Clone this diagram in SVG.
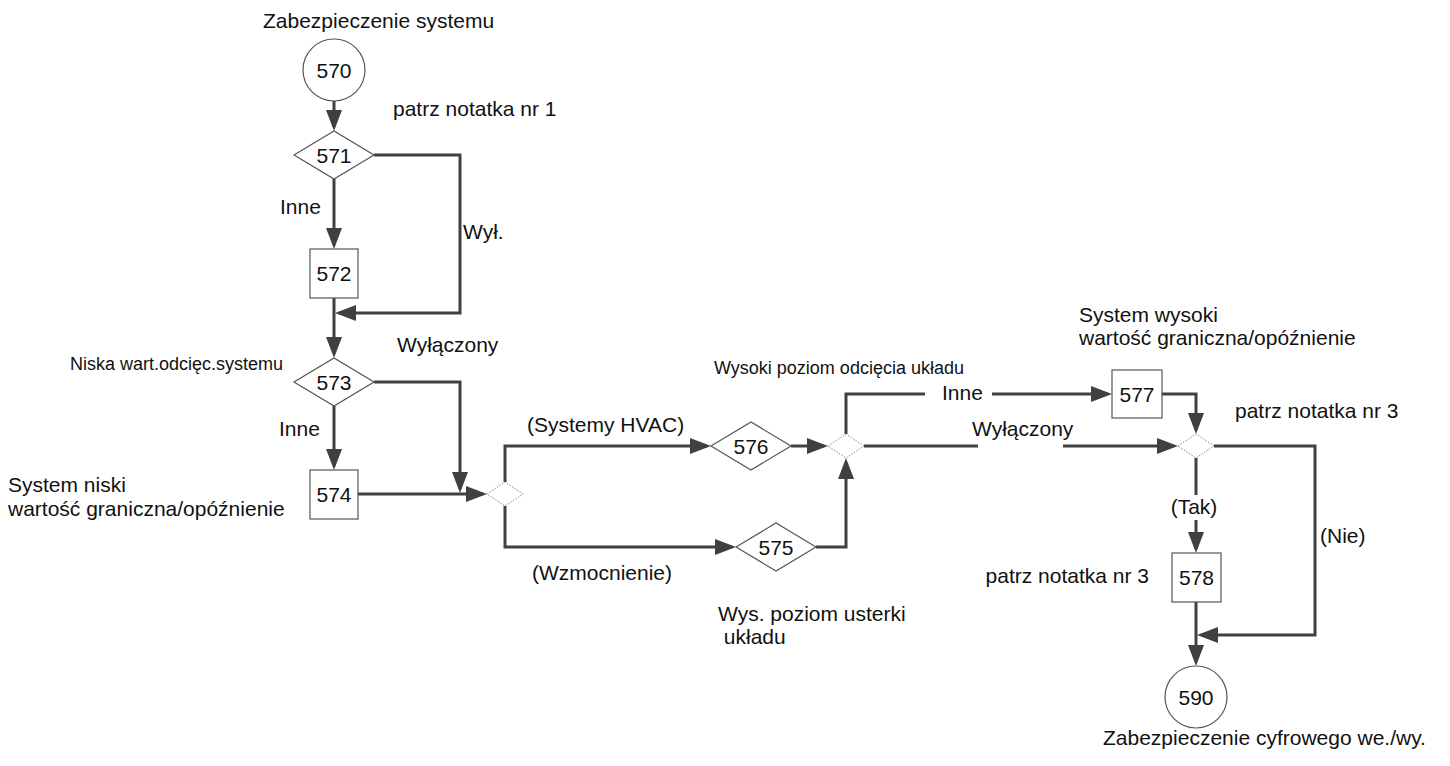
<svg xmlns="http://www.w3.org/2000/svg" width="1450" height="766" viewBox="0 0 1450 766">
<style>
text{font-family:"Liberation Sans",Arial,sans-serif;font-size:21px;fill:#111}
.small{font-size:18px}
.num{text-anchor:middle}
.shape{fill:#fff;stroke:#555;stroke-width:1.2}
.junc{fill:#fff;stroke:#888;stroke-width:1;stroke-dasharray:1.5 1.5}
.conn{fill:none;stroke:#404040;stroke-width:3}
</style>
<defs>
<marker id="arr" markerUnits="userSpaceOnUse" markerWidth="22" markerHeight="16" refX="17" refY="8" orient="auto">
<path d="M0,0 L21,8 L0,16 z" fill="#404040"/>
</marker>
</defs>
<rect width="1450" height="766" fill="#fff"/>
<g id="connectors">
<path class="conn" d="M334,101 V127" marker-end="url(#arr)"/>
<path class="conn" d="M334,179 V245" marker-end="url(#arr)"/>
<path class="conn" d="M374,155 H460 V313 H339" marker-end="url(#arr)"/>
<path class="conn" d="M334,298 V354" marker-end="url(#arr)"/>
<path class="conn" d="M334,406 V466" marker-end="url(#arr)"/>
<path class="conn" d="M374,382 H460 V489" marker-end="url(#arr)"/>
<path class="conn" d="M358,494 H483" marker-end="url(#arr)"/>
<path class="conn" d="M505,482 V446 H707" marker-end="url(#arr)"/>
<path class="conn" d="M791,446 H824" marker-end="url(#arr)"/>
<path class="conn" d="M505,506 V547 H732" marker-end="url(#arr)"/>
<path class="conn" d="M816,547 H846 V462" marker-end="url(#arr)"/>
<path class="conn" d="M846,434 V394 H925"/>
<path class="conn" d="M992,394 H1108" marker-end="url(#arr)"/>
<path class="conn" d="M1162,394 H1196 V430" marker-end="url(#arr)"/>
<path class="conn" d="M864,446 H978"/>
<path class="conn" d="M1063,446 H1174" marker-end="url(#arr)"/>
<path class="conn" d="M1214,446 H1315 V635 H1201" marker-end="url(#arr)"/>
<path class="conn" d="M1196,458 V495"/>
<path class="conn" d="M1196,520 V549" marker-end="url(#arr)"/>
<path class="conn" d="M1196,602 V662" marker-end="url(#arr)"/>
</g>
<g id="n570"><circle class="shape" cx="334" cy="70" r="31"/><text class="num" x="334" y="77.5">570</text></g>
<g id="n571"><path class="shape" d="M294,155 L334,131 L374,155 L334,179 z"/><text class="num" x="334" y="162.5">571</text></g>
<g id="n572"><rect class="shape" x="310" y="249" width="48" height="49"/><text class="num" x="334" y="281">572</text></g>
<g id="n573"><path class="shape" d="M294,382 L334,358 L374,382 L334,406 z"/><text class="num" x="334" y="389.5">573</text></g>
<g id="n574"><rect class="shape" x="310" y="470" width="48" height="49"/><text class="num" x="334" y="502">574</text></g>
<g id="j1"><path class="junc" d="M487,494 L505,482 L523,494 L505,506 z"/></g>
<g id="n576"><path class="shape" d="M711,446 L751,422 L791,446 L751,470 z"/><text class="num" x="751" y="453.5">576</text></g>
<g id="n575"><path class="shape" d="M736,547 L776,523 L816,547 L776,571 z"/><text class="num" x="776" y="554.5">575</text></g>
<g id="j2"><path class="junc" d="M828,446 L846,434 L864,446 L846,458 z"/></g>
<g id="n577"><rect class="shape" x="1112" y="370" width="50" height="48"/><text class="num" x="1137" y="401.5">577</text></g>
<g id="j3"><path class="junc" d="M1178,446 L1196,434 L1214,446 L1196,458 z"/></g>
<g id="n578"><rect class="shape" x="1172" y="553" width="49" height="49"/><text class="num" x="1196.5" y="585">578</text></g>
<g id="n590"><circle class="shape" cx="1196" cy="697" r="31"/><text class="num" x="1196" y="704.5">590</text></g>
<g id="labels">
<text x="263" y="28">Zabezpieczenie systemu</text>
<text x="393" y="116">patrz notatka nr 1</text>
<text x="280" y="214">Inne</text>
<text x="463" y="239">Wył.</text>
<text x="397" y="352">Wyłączony</text>
<text class="small" x="70" y="370">Niska wart.odcięc.systemu</text>
<text x="279" y="436">Inne</text>
<text x="8" y="492">System niski</text>
<text x="8" y="516">wartość graniczna/opóźnienie</text>
<text x="527" y="432">(Systemy HVAC)</text>
<text x="532" y="580">(Wzmocnienie)</text>
<text class="small" x="714" y="374">Wysoki poziom odcięcia układu</text>
<text x="942" y="400">Inne</text>
<text x="972" y="436">Wyłączony</text>
<text x="718" y="621">Wys. poziom usterki</text>
<text x="718" y="644" xml:space="preserve"> układu</text>
<text x="1079" y="322">System wysoki</text>
<text x="1079" y="345">wartość graniczna/opóźnienie</text>
<text x="1235" y="418">patrz notatka nr 3</text>
<text x="1194" y="514" text-anchor="middle">(Tak)</text>
<text x="1320" y="543">(Nie)</text>
<text x="1149" y="583" text-anchor="end">patrz notatka nr 3</text>
<text x="1103" y="745">Zabezpieczenie cyfrowego we./wy.</text>
</g>
</svg>
